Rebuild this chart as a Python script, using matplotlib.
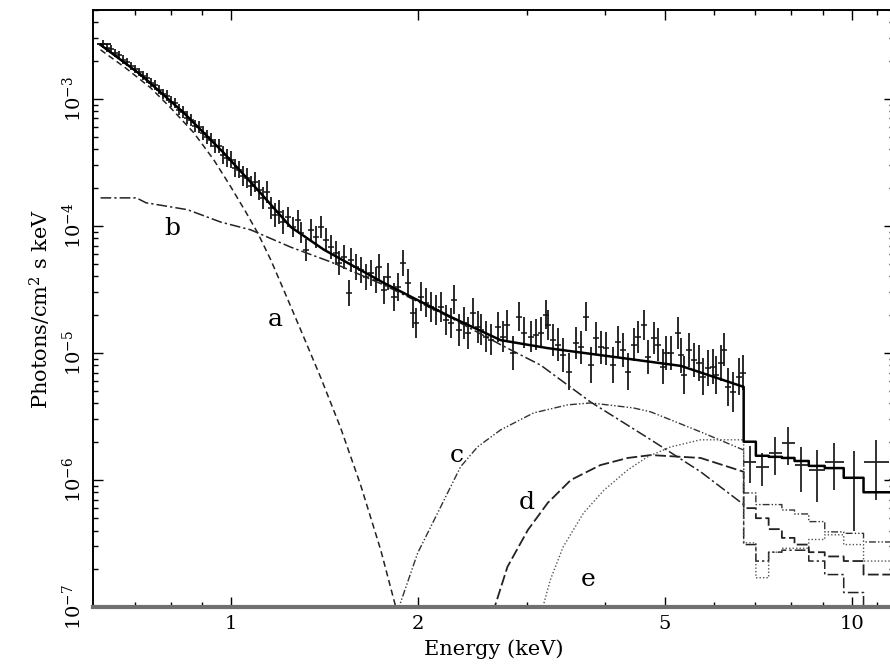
import numpy as np
import matplotlib.pyplot as plt
from matplotlib.ticker import FixedLocator, LogLocator, NullFormatter

plt.rcParams['font.family'] = ['DejaVu Serif']
plt.rcParams['mathtext.fontset'] = 'dejavuserif'

# ---- observed spectrum (keV, photons/cm2 s keV, fractional 1-sigma error)
# fine bins, soft end
e_soft = [0.622, 0.631, 0.641, 0.650, 0.660, 0.670, 0.680, 0.690, 0.700, 0.711,
          0.721, 0.732, 0.743, 0.754, 0.766, 0.777, 0.789, 0.800, 0.812, 0.825,
          0.837, 0.849, 0.862, 0.875, 0.888, 0.901, 0.915, 0.929, 0.942, 0.956,
          0.971, 0.985, 1.000, 1.015, 1.030, 1.045, 1.061, 1.077, 1.093, 1.109,
          1.126, 1.143, 1.160, 1.177, 1.195, 1.213]
f_soft = [2.71e-3, 2.52e-3, 2.48e-3, 2.30e-3, 2.22e-3, 2.03e-3, 1.95e-3, 1.82e-3, 1.72e-3, 1.63e-3,
          1.52e-3, 1.46e-3, 1.34e-3, 1.29e-3, 1.18e-3, 1.09e-3, 1.06e-3, 9.5e-4, 9.3e-4, 8.2e-4,
          7.9e-4, 7.1e-4, 6.8e-4, 6.1e-4, 6.0e-4, 5.4e-4, 5.0e-4, 4.75e-4, 4.27e-4, 4.27e-4,
          3.62e-4, 3.43e-4, 3.31e-4, 2.86e-4, 2.76e-4, 2.48e-4, 2.39e-4, 2.07e-4, 2.22e-4, 1.92e-4,
          1.66e-4, 1.85e-4, 1.39e-4, 1.22e-4, 1.29e-4, 1.07e-4]
err_soft = [0.07, 0.07, 0.07, 0.07, 0.07, 0.08, 0.08, 0.08, 0.08, 0.08,
            0.09, 0.09, 0.09, 0.09, 0.09, 0.10, 0.10, 0.10, 0.10, 0.10,
            0.12, 0.12, 0.12, 0.12, 0.12, 0.14, 0.14, 0.14, 0.14, 0.14,
            0.17, 0.17, 0.17, 0.17, 0.17, 0.20, 0.20, 0.20, 0.20, 0.20,
            0.22, 0.22, 0.22, 0.24, 0.24, 0.24]

# fine bins, 1.2 - 2.5 keV
e_mid = [1.235, 1.258, 1.282, 1.296, 1.321, 1.345, 1.370, 1.396, 1.422, 1.449,
         1.476, 1.492, 1.521, 1.549, 1.561, 1.590, 1.619, 1.650, 1.680, 1.712,
         1.731, 1.763, 1.789, 1.830, 1.857, 1.892, 1.928, 1.964, 1.986, 2.023,
         2.061, 2.100, 2.139, 2.179, 2.220, 2.261, 2.286, 2.329, 2.373, 2.408,
         2.453, 2.499]
f_mid = [1.18e-4, 9.8e-5, 1.11e-4, 8.8e-5, 6.5e-5, 9.3e-5, 8.2e-5, 9.8e-5, 7.8e-5, 6.8e-5,
         6.1e-5, 5.1e-5, 5.7e-5, 2.97e-5, 5.4e-5, 4.75e-5, 4.5e-5, 3.97e-5, 4.27e-5, 3.76e-5,
         4.75e-5, 3.13e-5, 3.97e-5, 2.76e-5, 3.31e-5, 5.1e-5, 3.56e-5, 2.07e-5, 1.72e-5, 2.76e-5,
         2.48e-5, 2.30e-5, 2.18e-5, 2.30e-5, 1.82e-5, 1.72e-5, 2.61e-5, 1.52e-5, 1.72e-5, 1.44e-5,
         2.07e-5, 1.60e-5]
err_mid = [0.20, 0.20, 0.21, 0.21, 0.22, 0.22, 0.22, 0.23, 0.23, 0.24,
           0.24, 0.24, 0.25, 0.27, 0.25, 0.26, 0.26, 0.27, 0.27, 0.27,
           0.26, 0.28, 0.28, 0.29, 0.29, 0.26, 0.29, 0.31, 0.32, 0.30,
           0.30, 0.31, 0.31, 0.31, 0.32, 0.32, 0.30, 0.33, 0.33, 0.34,
           0.31, 0.33]

# fine bins, 2.5 keV up to the Fe edge
e_fe = [2.527, 2.574, 2.623, 2.691, 2.742, 2.783, 2.846, 2.910, 2.964, 3.042,
        3.099, 3.157, 3.216, 3.240, 3.300, 3.362, 3.424, 3.502, 3.594, 3.661,
        3.730, 3.799, 3.870, 3.943, 4.017, 4.123, 4.200, 4.278, 4.358, 4.457,
        4.523, 4.623, 4.692, 4.798, 4.870, 4.961, 5.017, 5.111, 5.246, 5.304,
        5.364, 5.464, 5.567, 5.671, 5.756, 5.864, 5.974, 6.040, 6.152, 6.221,
        6.314, 6.432, 6.577, 6.675]
f_fe = [1.52e-5, 1.34e-5, 1.27e-5, 1.60e-5, 1.34e-5, 1.66e-5, 1.00e-5, 1.92e-5, 1.44e-5, 1.34e-5,
        1.39e-5, 1.44e-5, 1.99e-5, 1.66e-5, 1.27e-5, 1.16e-5, 9.6e-6, 7.1e-6, 1.20e-5, 1.11e-5,
        1.92e-5, 8.0e-6, 1.31e-5, 1.11e-5, 1.09e-5, 8.0e-6, 1.22e-5, 1.06e-5, 7.1e-6, 1.16e-5,
        1.34e-5, 1.66e-5, 9.3e-6, 1.31e-5, 1.16e-5, 7.8e-6, 1.00e-5, 1.00e-5, 1.44e-5, 9.6e-6,
        6.7e-6, 1.06e-5, 8.8e-6, 8.3e-6, 6.5e-6, 7.6e-6, 7.8e-6, 6.7e-6, 8.3e-6, 1.06e-5,
        5.4e-6, 4.93e-6, 6.5e-6, 7.0e-6]
err_fe = [0.32, 0.33, 0.33, 0.31, 0.33, 0.31, 0.36, 0.30, 0.32, 0.33,
          0.33, 0.32, 0.30, 0.31, 0.34, 0.35, 0.36, 0.40, 0.34, 0.35,
          0.30, 0.38, 0.34, 0.35, 0.35, 0.38, 0.34, 0.36, 0.40, 0.35,
          0.34, 0.32, 0.37, 0.34, 0.35, 0.38, 0.36, 0.36, 0.33, 0.37,
          0.40, 0.36, 0.37, 0.38, 0.40, 0.38, 0.38, 0.40, 0.38, 0.35,
          0.42, 0.43, 0.40, 0.38]

# coarse bins above the edge
hi_edges = [6.70, 7.01, 7.35, 7.72, 8.09, 8.53, 9.05, 9.71, 10.45, 11.47, 12.54]
e_hard = [6.85, 7.18, 7.53, 7.90, 8.30, 8.79, 9.37, 10.07, 10.95, 12.0]
f_hard = [1.39e-6, 1.27e-6, 1.63e-6, 1.96e-6, 1.31e-6, 1.20e-6, 1.39e-6, 1.04e-6, 1.39e-6, 1.0e-6]
err_hard = [0.45e-6, 0.37e-6, 0.54e-6, 0.65e-6, 0.50e-6, 0.53e-6, 0.56e-6, 0.64e-6, 0.69e-6, 0.60e-6]

# ---- model: total and components a-e (smooth below the edge, binned above)
tot_en = [0.617, 0.716, 0.840, 0.974, 1.105, 1.249, 1.412, 1.763, 2.261, 2.721, 3.24, 4.14, 5.31, 6.70]
tot_fl = [2.66e-3, 1.55e-3, 7.76e-4, 3.76e-4, 1.92e-4, 9.8e-5, 6.5e-5, 3.56e-5, 1.92e-5, 1.26e-5,
          1.09e-5, 9.3e-6, 7.9e-6, 5.4e-6]
tot_bins = [2.0e-6, 1.55e-6, 1.52e-6, 1.49e-6, 1.41e-6, 1.29e-6, 1.24e-6, 1.04e-6, 8.0e-7, 8.0e-7]

a_en = [0.617, 0.677, 0.743, 0.800, 0.872, 0.939, 1.0, 1.057, 1.105, 1.160, 1.217, 1.296,
        1.396, 1.503, 1.619, 1.744, 1.844, 1.879]
a_fl = [2.43e-3, 1.75e-3, 1.22e-3, 8.5e-4, 5.4e-4, 3.31e-4, 2.03e-4, 1.29e-4, 8.8e-5, 5.4e-5,
        3.13e-5, 1.52e-5, 6.4e-6, 2.57e-6, 9.1e-7, 2.81e-7, 1.0e-7, 7.0e-8]

b_en = [0.617, 0.705, 0.730, 0.852, 0.964, 1.077, 1.249, 1.449, 1.763, 2.261, 2.721, 3.157,
        3.80, 4.75, 5.71, 6.70]
b_fl = [1.66e-4, 1.66e-4, 1.52e-4, 1.34e-4, 1.07e-4, 9.3e-5, 6.8e-5, 5.2e-5, 3.43e-5, 1.89e-5,
        1.16e-5, 8.0e-6, 4.1e-6, 2.07e-6, 1.16e-6, 6.4e-7]
b_bins = [3.1e-7, 2.3e-7, 2.7e-7, 2.8e-7, 2.8e-7, 2.3e-7, 1.8e-7, 1.3e-7, 8.6e-8, 8.6e-8]

c_en = [1.82, 2.0, 2.154, 2.345, 2.497, 2.721, 3.074, 3.489, 3.80, 4.45, 4.75, 5.71, 6.70]
c_fl = [7.0e-8, 2.66e-7, 5.5e-7, 1.27e-6, 1.82e-6, 2.48e-6, 3.37e-6, 3.9e-6, 4.04e-6, 3.69e-6,
        3.43e-6, 2.39e-6, 1.72e-6]
c_bins = [7.9e-7, 6.4e-7, 6.4e-7, 5.8e-7, 5.4e-7, 4.7e-7, 3.9e-7, 3.8e-7, 3.25e-7, 3.25e-7]

d_en = [2.60, 2.79, 3.01, 3.24, 3.53, 3.94, 4.36, 4.75, 5.71, 6.70]
d_fl = [7.0e-8, 2.07e-7, 4.04e-7, 6.6e-7, 1.0e-6, 1.31e-6, 1.49e-6, 1.57e-6, 1.49e-6, 1.16e-6]
d_bins = [6.0e-7, 5.0e-7, 4.1e-7, 3.5e-7, 3.1e-7, 2.7e-7, 2.5e-7, 2.3e-7, 1.8e-7, 1.8e-7]

ee_en = [3.12, 3.27, 3.43, 3.70, 3.99, 4.36, 4.69, 5.11, 5.71, 6.70]
ee_fl = [7.0e-8, 1.63e-7, 2.97e-7, 5.5e-7, 8.3e-7, 1.2e-6, 1.52e-6, 1.82e-6, 2.07e-6, 2.07e-6]
ee_bins = [3.2e-7, 1.7e-7, 2.7e-7, 2.9e-7, 2.9e-7, 3.4e-7, 3.7e-7, 3.1e-7, 2.3e-7, 2.3e-7]

curve_labels = ['a', 'b', 'c', 'd', 'e']
label_en = [1.181, 0.804, 2.312, 2.997, 3.758]
label_fl = [1.82e-5, 9.6e-5, 1.55e-6, 6.6e-7, 1.66e-7]


def with_bins(en, fl, bins):
    # smooth part, then a histogram over the coarse bins
    x = list(en) + list(np.repeat(hi_edges, 2)[1:-1])
    y = list(fl) + list(np.repeat(bins, 2))
    return x, y


fig = plt.figure(figsize=(8.9, 6.71), dpi=100)
ax = fig.add_axes([93 / 890, 64 / 671, 801 / 890, 597 / 671])
ax.set_xscale('log')
ax.set_yscale('log')

# data points
e_fine = np.array(e_soft + e_mid + e_fe)
f_fine = np.array(f_soft + f_mid + f_fe)
r_fine = np.array(err_soft + err_mid + err_fe)
yerr = [f_fine - f_fine / (1 + r_fine), f_fine * r_fine]
ax.errorbar(e_fine, f_fine, yerr=yerr, fmt='_', ms=4, mew=1.1, color='#111111',
            ecolor='#2a2a2a', elinewidth=1.4, capsize=0, zorder=3)
ax.errorbar(e_soft[0], f_soft[0], xerr=[[0.012], [0.02]], fmt='none',
            ecolor='#111111', elinewidth=1.3, zorder=3)

e_h = np.array(e_hard)
edges = np.array(hi_edges)
xerr = [e_h - edges[:-1], edges[1:] - e_h]
ax.errorbar(e_h, f_hard, xerr=xerr, yerr=err_hard, fmt='none', ecolor='#222222',
            elinewidth=1.3, capsize=0, zorder=3)

# model curves
x, y = with_bins(tot_en, tot_fl, tot_bins)
ax.plot(x, y, color='black', lw=1.8, zorder=4)
ax.plot(a_en, a_fl, color='#222222', lw=1.1, ls=(0, (4, 2.5)))
x, y = with_bins(b_en, b_fl, b_bins)
ax.plot(x, y, color='#222222', lw=1.1, ls=(0, (7, 2, 1.5, 2)))
x, y = with_bins(c_en, c_fl, c_bins)
ax.plot(x, y, color='#333333', lw=1.0, ls=(0, (5, 1.5, 1, 1.5, 1, 1.5)))
x, y = with_bins(d_en, d_fl, d_bins)
ax.plot(x, y, color='#222222', lw=1.3, ls=(0, (6, 2)))
x, y = with_bins(ee_en, ee_fl, ee_bins)
ax.plot(x, y, color='#555555', lw=1.0, ls=(0, (1, 1.5)))

for lab, xe, yf in zip(curve_labels, label_en, label_fl):
    ax.text(xe, yf, lab, fontsize=18, ha='center', va='center')

ax.set_xlim(0.6, 11.7)
ax.set_ylim(1e-7, 5e-3)

ax.xaxis.set_major_locator(FixedLocator([1, 2, 5, 10]))
ax.xaxis.set_minor_locator(FixedLocator([0.7, 0.8, 0.9, 3, 4, 6, 7, 8, 9, 11]))
ax.set_xticklabels(['1', '2', '5', '10'])
ax.xaxis.set_minor_formatter(NullFormatter())
ax.yaxis.set_major_locator(LogLocator(base=10, numticks=10))
ax.yaxis.set_minor_locator(LogLocator(base=10, subs=np.arange(2, 10), numticks=20))
ax.yaxis.set_minor_formatter(NullFormatter())

ax.tick_params(which='both', direction='in', top=True, right=True, width=1.0)
ax.tick_params(which='major', length=7.5, labelsize=14, pad=6)
ax.tick_params(which='minor', length=3.8)
ax.tick_params(axis='y', labelrotation=90)
for t in ax.get_yticklabels():
    t.set_va('center')

for side in ['left', 'top']:
    ax.spines[side].set_linewidth(1.4)
ax.spines['right'].set_visible(False)
ax.spines['bottom'].set_linewidth(3)
ax.spines['bottom'].set_color('#707070')

ax.set_xlabel('Energy (keV)', fontsize=15, labelpad=4)
ax.set_ylabel('Photons/cm$^2$ s keV', fontsize=15, labelpad=6)

fig.savefig('out.png', dpi=100)
